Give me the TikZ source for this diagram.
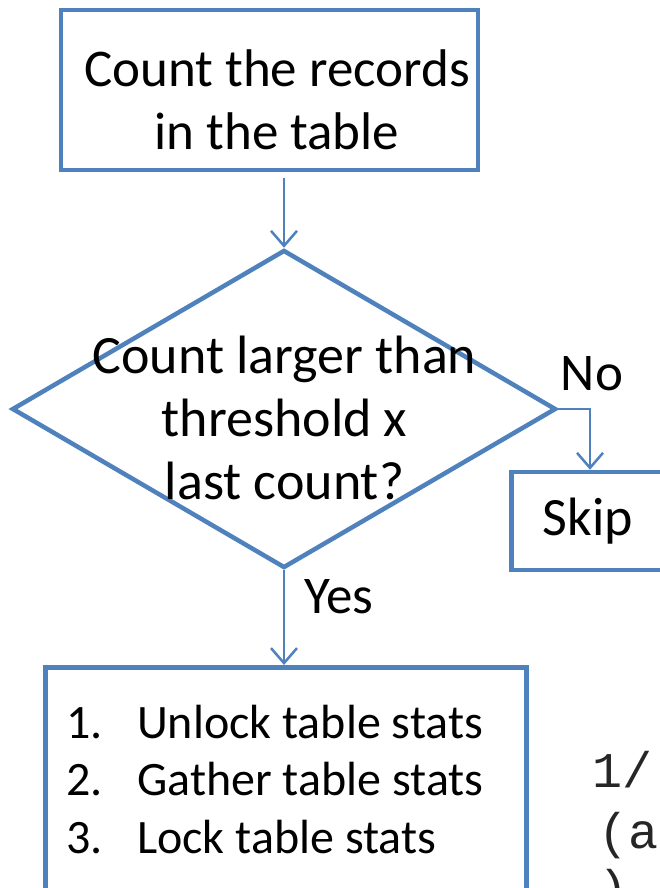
\documentclass[tikz,border=0pt]{standalone}
\usepackage{fontspec}
\setmainfont{Carlito}
\newfontfamily\codefont{Liberation Mono}
\usetikzlibrary{arrows.meta,shapes.geometric}
\definecolor{flowblue}{HTML}{4F81BD}
\tikzset{
  boxline/.style={draw=flowblue, line width=4.5pt},
  conn/.style={draw=flowblue, line width=2.5pt, -{Straight Barb[length=15pt,width=26pt,line width=2.5pt]}},
  bigtext/.style={font=\fontsize{54}{63}\selectfont, align=center, inner sep=0pt},
  labeltext/.style={font=\fontsize{53}{63}\selectfont, inner sep=0pt, anchor=base},
  codetext/.style={font=\codefont\fontsize{50}{55}\selectfont, text=black!85, inner sep=0pt, anchor=base west},
}
\begin{document}
\begin{tikzpicture}[x=1pt,y=-1pt]
\useasboundingbox (0,0) rectangle (660,888);
\clip (0,0) rectangle (660,888);
% top box
\node[boxline, minimum width=417pt, minimum height=160pt, inner sep=0pt] (count) at (269.5,90) {};
\node[bigtext, font=\fontsize{53}{63}\selectfont, anchor=base] (counttext) at (277,87) {\begin{tabular}[t]{@{}c@{}}Count the records\\in the table\end{tabular}};
% decision diamond
\node[boxline, diamond, minimum width=544pt, minimum height=318pt, inner sep=0pt] (dec) at (284,409) {};
\node[bigtext, anchor=base] (dectext) at (284.5,373) {\begin{tabular}[t]{@{}c@{}}Count larger than\\threshold x\\last count?\end{tabular}};
% skip box
\node[boxline, minimum width=200pt, minimum height=98pt, inner sep=0pt, anchor=west] (skip) at (509,521) {};
\node[labeltext, font=\fontsize{54}{63}\selectfont] (skiptext) at (588,535) {Skip};
% actions box
\node[boxline, minimum width=481pt, minimum height=260pt, inner sep=0pt, anchor=north west] (act) at (43,665) {};
\node[font=\fontsize{48}{57.5}\selectfont, inner sep=0pt, anchor=base west] (acttext) at (66,738) {%
\begin{tabular}[t]{@{}l@{}l@{}}\makebox[71pt][l]{1.}&Unlock table stats\\\makebox[71pt][l]{2.}&Gather table stats\\\makebox[71pt][l]{3.}&Lock table stats\end{tabular}};
% labels
\node[labeltext] (no) at (592,390) {No};
\node[labeltext] (yes) at (339,613) {Yes};
% code fragment
\node[codetext] (code1) at (592,787) {1/};
\node[codetext] (code2) at (598,848) {(al};
\node[codetext] (code3) at (598,905) {)};
% connectors
\draw[conn] ([yshift=-6pt]count.south -| dec.north) -- (dec.north);
\coordinate (bend) at (590,409);
\draw[conn] (dec.east) -- (bend) -- (bend |- skip.north);
\draw[conn] (dec.south) -- (dec.south |- act.north);
\end{tikzpicture}
\end{document}
